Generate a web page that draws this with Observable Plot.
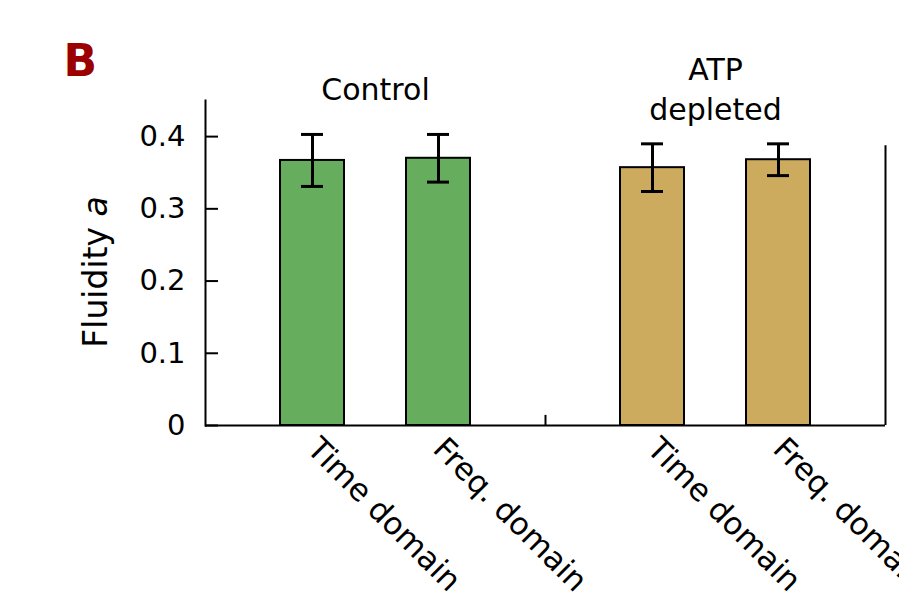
<!DOCTYPE html>
<html><head><meta charset="utf-8">
<script src="https://cdn.jsdelivr.net/npm/d3@7"></script>
<script src="https://cdn.jsdelivr.net/npm/@observablehq/plot@0.6"></script>
<style>body{margin:0;background:#fff}</style>
</head><body><div id="chart"></div>
<script>
const groups = ["Control", "ATP depleted"];
const groupLabels = ["Control", "ATP\ndepleted"];
const methods = ["Time domain", "Freq. domain"];
const barGroup = ["Control", "Control", "ATP depleted", "ATP depleted"];
const barMethod = ["Time domain", "Freq. domain", "Time domain", "Freq. domain"];
const fluidity = [0.367, 0.370, 0.357, 0.368];
const fluiditySD = [0.036, 0.033, 0.033, 0.022];
const yTicks = [0, 0.1, 0.2, 0.3, 0.4];
const edgeTop = [0.014, 0.3875];
const colors = ["#66ad5e", "#ccab5e"];

const W = 899, H = 592, ML = 205, MR = 14, MT = 100, MB = 167;
const facetW = (W - ML - MR) / 2;
const bars = fluidity.map((v, i) => ({group: barGroup[i], method: barMethod[i], value: v, lo: v - fluiditySD[i], hi: v + fluiditySD[i]}));
const edges = groups.map((g, i) => ({group: g, top: edgeTop[i]}));
const font = "DejaVu Sans, sans-serif";

const plot = Plot.plot({
  width: W, height: H, marginLeft: ML, marginRight: MR, marginTop: MT, marginBottom: MB,
  style: {fontFamily: font, color: "#000", background: "#fff", overflow: "visible"},
  fx: {domain: groups, padding: 0, axis: null},
  x: {domain: methods, paddingInner: 0.494, paddingOuter: 0.591, label: null},
  y: {domain: [0, 0.45], label: null},
  color: {domain: groups, range: colors},
  marks: [
    Plot.barY(bars, {fx: "group", x: "method", y: "value", fill: "group", stroke: "#000", strokeWidth: 2}),
    Plot.ruleX(bars, {fx: "group", x: "method", y1: "lo", y2: "hi", stroke: "#000", strokeWidth: 3}),
    Plot.tickY(bars, {fx: "group", x: "method", y: "hi", stroke: "#000", strokeWidth: 3, insetLeft: 21, insetRight: 21}),
    Plot.tickY(bars, {fx: "group", x: "method", y: "lo", stroke: "#000", strokeWidth: 3, insetLeft: 21, insetRight: 21}),
    Plot.ruleY([0], {stroke: "#000", strokeWidth: 2}),
    Plot.frame({anchor: "left", facetAnchor: "left", stroke: "#000", strokeWidth: 2}),
    Plot.ruleX(edges, {fx: "group", x: null, y1: 0, y2: "top", dx: facetW / 2, stroke: "#000", strokeWidth: 2}),
    Plot.tickY(yTicks, {y: d => d, facetAnchor: "left", insetRight: facetW - 13, stroke: "#000", strokeWidth: 2}),
    Plot.axisY(yTicks, {anchor: "left", tickSize: 0, tickPadding: 20, fontSize: 29, tickFormat: d => d === 0 ? "0" : d.toFixed(1), label: null}),
    Plot.axisX({anchor: "bottom", tickSize: 0, tickRotate: 45, fontSize: 31, tickPadding: 18, label: null}),
    Plot.text(groups, {fx: d => d, text: (d, i) => groupLabels[i], frameAnchor: "top", dy: -13, lineAnchor: "middle", lineHeight: 1.34, fontSize: 30}),
    Plot.text(["Fluidity a"], {text: d => d, frameAnchor: "left", facetAnchor: "left", rotate: -90, dx: -109, dy: 9, fontSize: 33, textAnchor: "middle", lineAnchor: "middle"}),
    Plot.text(["B"], {text: d => d, frameAnchor: "top-left", facetAnchor: "left", dx: -142, dy: -25, lineAnchor: "bottom", textAnchor: "start", fontSize: 44, fontWeight: "bold", fill: "#9b0000"})
  ]
});
d3.select(plot).selectAll("text").each(function () {
  if (this.textContent === "Fluidity a") {
    this.textContent = "Fluidity ";
    d3.select(this).append("tspan").attr("font-style", "italic").text("a");
  }
});
document.getElementById("chart").appendChild(plot);
</script>
</body></html>
